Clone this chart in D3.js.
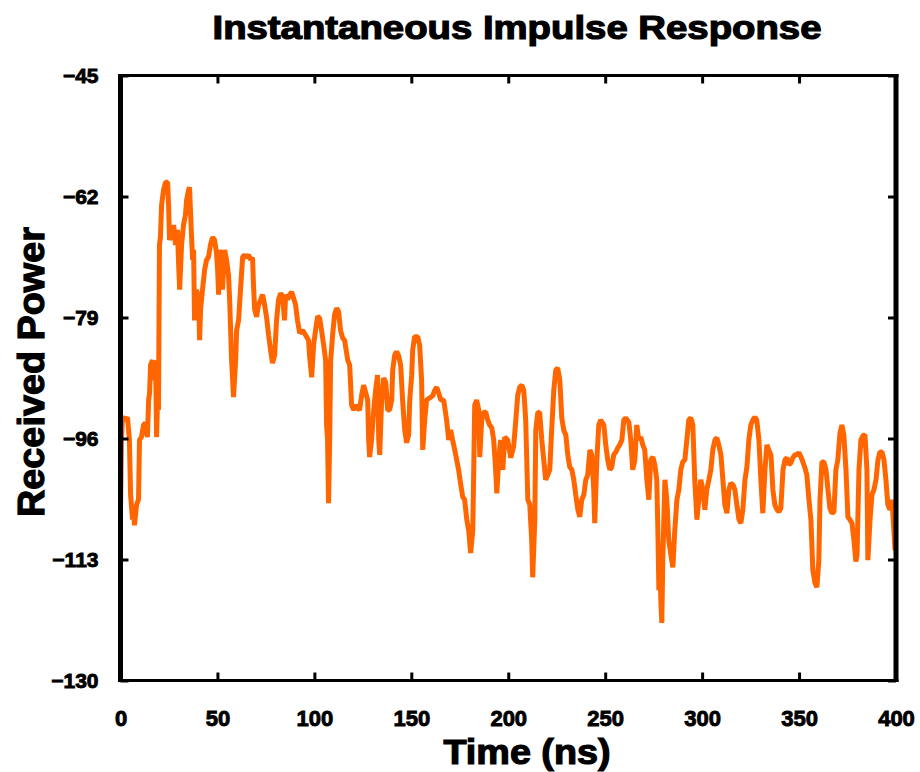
<!DOCTYPE html>
<html><head><meta charset="utf-8">
<script src="https://cdn.jsdelivr.net/npm/d3@7"></script>
<style>
html,body{margin:0;padding:0;background:#fff;}
svg text{font-family:"Liberation Sans Narrow","Liberation Sans","DejaVu Sans Condensed",Arial,sans-serif;font-weight:bold;fill:#000;}
</style></head>
<body><svg id="chart" width="920" height="772"></svg>
<script>
const timeNs = [0,0.5,1.0,2.6,3.6,4.6,5.2,6.2,6.7,7.2,8.3,9.3,9.8,10.8,11.9,12.9,13.9,14.5,15.0,15.5,16.5,17.0,17.5,18.1,18.6,19.1,19.6,20.1,20.6,21.2,22.2,23.2,24.3,24.8,25.3,26.3,27.4,28.4,29.4,29.9,30.5,31.5,32.5,33.5,34.1,35.1,35.6,36.6,37.2,37.7,38.2,39.2,40.3,40.8,41.3,42.3,43.4,44.4,45.4,46.4,47.5,48.5,49.5,50.1,50.6,51.1,52.1,52.6,53.7,54.7,55.7,56.3,57.3,58.3,59.4,59.9,60.9,61.9,63.0,64.0,
65.0,66.1,67.1,68.1,68.6,69.2,70.2,71.2,72.3,73.3,74.3,75.4,76.4,77.4,78.4,79.5,80.5,81.5,82.6,83.6,84.6,85.2,86.2,87.2,88.3,89.3,90.3,91.3,92.4,93.9,95.5,97.0,97.5,98.6,99.6,100.6,101.7,102.7,103.7,104.8,105.8,106.3,106.8,107.3,107.9,108.4,109.4,110.4,111.5,112.5,113.5,114.6,115.6,117.2,118.2,119.2,120.3,121.3,122.3,123.3,124.4,125.4,126.4,127.5,128.0,128.5,129.5,130.6,131.6,132.6,
133.2,133.7,134.7,135.7,136.8,137.8,138.8,139.9,140.4,141.4,142.4,143.5,144.5,145.5,146.6,147.6,148.6,149.2,150.2,150.7,151.7,153.3,154.3,155.3,155.9,156.9,157.9,159.5,161.0,162.1,163.1,164.1,165.2,166.7,168.2,169.3,170.3,171.3,172.4,173.4,174.4,175.5,176.5,177.5,178.6,179.6,180.6,181.7,182.2,182.7,183.7,184.8,185.3,186.3,187.3,188.4,189.4,190.4,191.5,192.5,193.5,194.1,195.1,196.1,197.2,198.2,199.7,
201.3,202.8,203.9,204.9,205.9,207.0,208.0,209.0,210.1,211.1,212.1,212.6,213.7,214.2,215.2,216.2,217.3,218.3,219.3,220.4,221.4,222.4,223.5,224.5,225.5,226.6,227.6,228.6,229.7,230.7,231.7,232.8,233.8,234.8,235.9,236.9,237.9,239.0,240.0,241.0,242.1,243.1,244.1,244.6,245.7,246.7,247.7,249.3,250.3,251.3,252.4,253.4,254.4,255.5,256.5,257.5,258.6,259.6,260.6,262.2,263.2,264.2,265.3,266.3,267.3,268.4,269.4,270.4,271.5,272.5,273.5,274.6,275.6,276.6,277.1,277.7,278.2,278.7,279.2,279.7,280.8,281.8,282.8,283.9,284.9,285.9,287.0,288.0,289.0,290.0,291.1,292.1,293.1,294.2,295.2,296.2,297.3,298.3,299.3,
300.4,301.4,302.4,303.5,304.5,305.5,306.6,307.6,308.6,309.7,310.7,311.7,312.8,313.8,314.8,315.9,316.9,317.9,319.0,320.0,321.0,322.1,323.1,324.1,325.1,326.2,327.2,328.2,329.3,330.3,331.3,332.4,333.4,334.4,335.5,336.5,337.5,338.6,339.6,340.6,341.7,342.7,343.7,344.8,345.8,346.8,347.9,348.9,349.9,351.0,352.0,353.0,354.0,355.1,356.1,357.1,358.2,359.2,360.2,360.8,361.8,362.8,363.9,364.9,365.9,367.0,368.0,369.0,370.0,371.1,372.1,373.1,374.2,375.2,376.2,377.3,378.3,379.3,379.9,380.9,381.9,383.0,384.0,385.0,385.5,386.6,387.6,388.6,389.7,390.7,391.7,392.8,393.8,394.8,395.8,396.9,397.9,398.9,399.5];

const powerDb = [-106.0,-96.2,-93.0,-93.4,-93.0,-96.2,-103.9,-107.4,-106.0,-108.2,-105.3,-104.6,-96.2,-95.8,-94.1,-93.8,-95.8,-90.6,-89.6,-85.7,-85.0,-87.8,-86.4,-85.0,-95.8,-90.6,-92.0,-68.8,-67.7,-63.2,-61.1,-60.0,-60.0,-63.2,-68.1,-67.4,-66.0,-68.8,-66.7,-70.9,-75.1,-68.8,-66.0,-64.6,-62.5,-61.1,-60.7,-67.4,-70.9,-69.5,-79.4,-75.1,-76.5,-82.2,-77.9,-75.1,-72.3,-70.9,-70.5,-68.8,-67.7,-68.1,-69.9,-72.3,-75.8,-69.5,-71.6,-75.1,-69.5,-70.9,-73.0,-76.5,-85.0,-90.2,-85.0,-80.8,-79.4,-75.1,-70.5,-70.2,
-70.6,-70.2,-70.9,-70.6,-74.4,-77.9,-78.9,-77.2,-76.5,-75.8,-77.2,-79.1,-81.5,-83.6,-85.4,-84.3,-79.4,-76.5,-75.6,-76.0,-79.4,-75.8,-76.5,-75.8,-75.4,-76.3,-77.2,-79.4,-81.2,-80.8,-81.5,-82.2,-84.3,-87.4,-82.9,-80.8,-78.8,-79.1,-80.8,-82.9,-85.0,-94.1,-96.2,-105.1,-96.2,-85.0,-81.5,-78.6,-77.7,-78.2,-80.8,-81.9,-82.2,-85.0,-85.7,-91.3,-92.0,-91.3,-91.7,-92.0,-89.9,-88.5,-89.5,-90.6,-96.2,-98.6,-96.2,-92.0,-89.2,-87.1,
-96.2,-98.3,-90.6,-87.5,-88.1,-92.0,-92.0,-90.6,-86.4,-84.3,-83.8,-84.4,-85.7,-90.6,-94.8,-96.6,-95.5,-90.6,-87.1,-83.6,-81.7,-81.7,-82.9,-87.8,-97.6,-93.4,-90.6,-90.3,-90.0,-89.2,-88.8,-89.6,-90.6,-90.6,-93.4,-96.2,-94.8,-96.2,-97.6,-99.0,-100.4,-102.5,-104.2,-104.6,-107.4,-108.9,-112.1,-108.9,-100.4,-91.3,-90.6,-92.0,-98.6,-93.4,-92.3,-92.3,-93.4,-94.1,-94.5,-96.2,-100.4,-103.7,-99.0,-96.2,-100.4,-95.8,-96.2,
-98.7,-97.1,-93.4,-89.9,-88.8,-88.5,-89.2,-93.4,-104.6,-105.3,-110.3,-115.5,-107.4,-94.8,-92.4,-92.3,-96.2,-99.0,-101.8,-101.1,-100.4,-94.8,-89.2,-86.4,-86.1,-87.8,-93.1,-94.8,-95.5,-98.3,-100.0,-100.4,-101.8,-103.9,-106.0,-107.0,-104.6,-103.9,-101.8,-101.1,-97.6,-98.3,-103.2,-107.9,-99.0,-94.1,-93.4,-94.1,-96.9,-99.0,-100.4,-100.0,-98.3,-97.9,-97.3,-96.9,-96.2,-93.4,-93.1,-93.7,-96.2,-100.4,-99.0,-94.1,-96.2,-95.8,-96.9,-97.6,-101.8,-104.6,-99.0,-98.6,-99.7,-101.8,-107.9,-117.3,-113.1,-118.7,-121.9,-113.1,-101.8,-104.6,-110.3,-112.4,-114.1,-108.9,-104.6,-103.2,-100.4,-99.3,-99.0,-96.2,-93.4,-93.1,-94.1,-101.8,-107.4,-104.6,-101.8,
-103.2,-106.0,-103.2,-101.8,-100.4,-97.6,-96.2,-95.9,-96.9,-98.3,-101.8,-105.3,-106.5,-103.2,-102.3,-102.5,-103.2,-105.3,-107.4,-107.9,-106.0,-101.8,-100.0,-96.2,-94.1,-93.4,-93.0,-93.4,-96.2,-101.8,-106.5,-100.4,-96.9,-97.6,-98.3,-103.2,-105.3,-106.0,-106.3,-105.8,-100.4,-99.0,-98.7,-99.7,-99.4,-98.7,-98.3,-98.3,-98.0,-98.6,-99.3,-100.1,-101.1,-104.6,-107.4,-114.5,-116.3,-116.9,-113.1,-104.6,-99.3,-99.3,-100.4,-103.2,-105.8,-106.5,-106.3,-100.4,-99.0,-95.2,-94.1,-95.5,-100.4,-107.0,-107.4,-107.9,-110.3,-113.3,-112.4,-100.4,-96.2,-95.6,-95.5,-100.4,-113.1,-107.4,-103.9,-103.2,-101.8,-99.0,-97.9,-97.9,-99.0,-101.8,-105.3,-106.0,-104.6,-108.9,-111.7];

const xTicks = [0,50,100,150,200,250,300,350,400];
const yTicks = [-130,-113,-96,-79,-62,-45];
const titleText = "Instantaneous Impulse Response";
const xLabel = "Time (ns)";
const yLabel = "Received Power";

const svg = d3.select("#chart");
const L = 120.5, R = 896, T = 75.5, B = 680.5;
const x = d3.scaleLinear().domain([0,400]).range([L,R]);
const y = d3.scaleLinear().domain([-130,-45]).range([B,T]);

const data = timeNs.map((t,i)=>({t, v: powerDb[i]}));

svg.append("path").datum(data)
  .attr("fill","none").attr("stroke","#ff6600").attr("stroke-width",5)
  .attr("stroke-linejoin","bevel")
  .attr("d", d3.line().x(d=>x(d.t)).y(d=>y(d.v)));

const tickLen = 8;
const gB = svg.append("g").attr("transform",`translate(0,${B})`)
  .call(d3.axisBottom(x).tickValues(xTicks).tickSize(-tickLen).tickSizeOuter(0).tickPadding(30));
const gT = svg.append("g").attr("transform",`translate(0,${T})`)
  .call(d3.axisTop(x).tickValues(xTicks).tickSize(-tickLen).tickSizeOuter(0).tickFormat(""));
const gL = svg.append("g").attr("transform",`translate(${L},0)`)
  .call(d3.axisLeft(y).tickValues(yTicks).tickSize(-tickLen).tickSizeOuter(0).tickPadding(22));
const gR = svg.append("g").attr("transform",`translate(${R},0)`)
  .call(d3.axisRight(y).tickValues(yTicks).tickSize(-tickLen).tickSizeOuter(0).tickFormat(""));

[gB,gT].forEach(g=>{ g.select(".domain").attr("stroke","#000").attr("stroke-width",3);
  g.selectAll(".tick line").attr("stroke","#000").attr("stroke-width",3); });
[gL,gR].forEach(g=>{ g.select(".domain").attr("stroke","#000").attr("stroke-width",5);
  g.selectAll(".tick line").attr("stroke","#000").attr("stroke-width",3); });
gB.select(".domain").attr("d",`M${L-2.5},0H${R+2.5}`);
gT.select(".domain").attr("d",`M${L-2.5},0H${R+2.5}`);
gL.select(".domain").attr("d",`M0,${T-1.5}V${B+1.5}`);
gR.select(".domain").attr("d",`M0,${T-1.5}V${B+1.5}`);

gB.selectAll(".tick text").attr("font-size",22).attr("font-family",null)
  .attr("stroke","#000").attr("stroke-width",0.9);
gL.selectAll(".tick text").attr("font-size",21).attr("font-family",null)
  .attr("stroke","#000").attr("stroke-width",0.9).attr("dy","0.35em");

svg.append("text").attr("x",517).attr("y",39).attr("text-anchor","middle")
  .attr("font-size",33).attr("stroke","#000").attr("stroke-width",1.2)
  .attr("textLength",609).attr("lengthAdjust","spacingAndGlyphs")
  .text(titleText);
svg.append("text").attr("x",527).attr("y",764).attr("text-anchor","middle")
  .attr("font-size",35).attr("stroke","#000").attr("stroke-width",1.2)
  .attr("textLength",167).attr("lengthAdjust","spacingAndGlyphs")
  .text(xLabel);
svg.append("text").attr("transform","translate(44,372) rotate(-90)").attr("text-anchor","middle")
  .attr("font-size",37).attr("stroke","#000").attr("stroke-width",1.2)
  .attr("textLength",290).attr("lengthAdjust","spacingAndGlyphs")
  .text(yLabel);
</script></body></html>
